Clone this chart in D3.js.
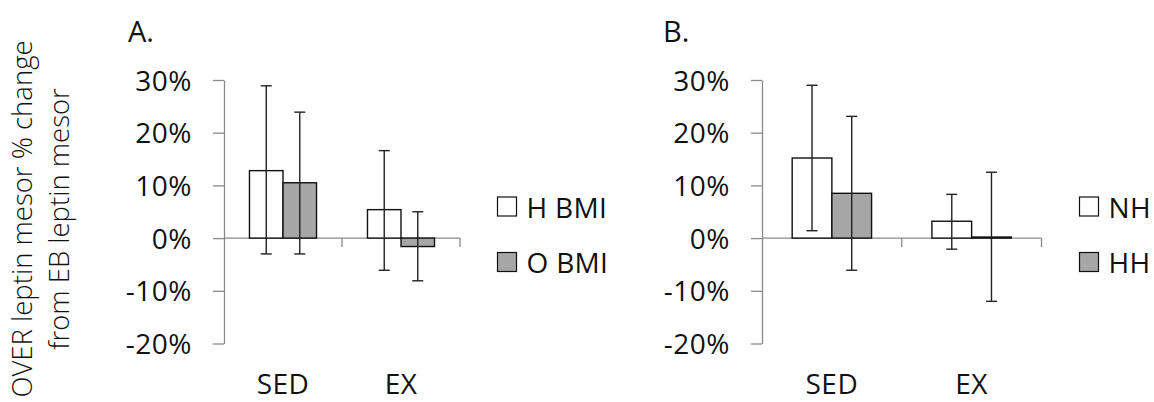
<!DOCTYPE html>
<html>
<head>
<meta charset="utf-8">
<script src="https://cdn.jsdelivr.net/npm/d3@7"></script>
<style>
  html, body { margin: 0; padding: 0; background: #fff; }
  svg text { font-family: "Open Sans", Lato, sans-serif; fill: #111; }
</style>
</head>
<body>
<svg id="chart" width="1154" height="402"></svg>
<script>
// Shared categories and axis ticks
const categories = ["SED", "EX"];
const yTicks = [30, 20, 10, 0, -10, -20];

// Panel A: BMI groups (percent change, with error bar limits)
const seriesA = ["H BMI", "O BMI"];
const meanA_H = [12.8, 5.4];
const meanA_O = [10.5, -1.6];
const hiA_H = [28.9, 16.6];
const loA_H = [-3.0, -6.1];
const hiA_O = [23.9, 5.0];
const loA_O = [-3.0, -8.1];

// Panel B: NH / HH groups
const seriesB = ["NH", "HH"];
const meanB_N = [15.2, 3.2];
const meanB_H = [8.5, 0.2];
const hiB_N = [29.0, 8.3];
const loB_N = [1.4, -2.1];
const hiB_H = [23.1, 12.5];
const loB_H = [-6.1, -12.0];

const fills = ["#ffffff", "#a6a6a6"];
const axisGray = "#8a8a8a";
const fontSize = 28;
const fontWeight = 500;

const svg = d3.select("#chart");

// y-axis title (two lines, rotated)
const yTitle = svg.append("text")
  .attr("transform", "translate(0,219) rotate(-90)")
  .attr("text-anchor", "middle")
  .style("font-size", "27.5px")
  .style("font-weight", 300);
yTitle.append("tspan").attr("x", 0).attr("y", 32).text("OVER leptin mesor % change");
yTitle.append("tspan").attr("x", 0).attr("y", 69).text("from EB leptin mesor");

const y = d3.scaleLinear().domain([-20, 30]).range([343.5, 80]);

function drawPanel(opt) {
  const g = svg.append("g");
  const x = d3.scaleBand().domain(categories).range([opt.x0, opt.x1]).paddingInner(0).paddingOuter(0);
  const xs = d3.scaleBand().domain(opt.series).range([0, x.bandwidth()]).paddingInner(0).paddingOuter(0.76);

  // panel letter
  g.append("text").attr("x", opt.titleX).attr("y", 42)
    .style("font-size", "29px").style("font-weight", fontWeight).text(opt.title);

  // y axis
  const ya = g.append("g").attr("transform", `translate(${opt.x0},0)`)
    .call(d3.axisLeft(y).tickValues(yTicks).tickSize(11).tickSizeOuter(0).tickPadding(21)
      .tickFormat(d => d + "%"));
  ya.select(".domain").attr("stroke", axisGray).attr("stroke-width", 1.3);
  ya.selectAll(".tick line").attr("stroke", axisGray).attr("stroke-width", 1.3);
  ya.selectAll(".tick text")
    .attr("font-family", null).attr("font-size", null)
    .style("font-size", fontSize + "px").style("font-weight", fontWeight)
    .style("letter-spacing", "0.5px")
    .attr("fill", "#111").attr("dy", "0.36em");

  // x axis at zero
  g.append("line").attr("x1", opt.x0).attr("x2", opt.x1)
    .attr("y1", y(0)).attr("y2", y(0))
    .attr("stroke", axisGray).attr("stroke-width", 1.3);
  g.selectAll(".xtick").data(categories).join("line")
    .attr("x1", d => x(d) + x.bandwidth()).attr("x2", d => x(d) + x.bandwidth())
    .attr("y1", y(0)).attr("y2", y(0) + 9)
    .attr("stroke", axisGray).attr("stroke-width", 1.3);

  // category labels
  g.selectAll(".xlab").data(categories).join("text")
    .attr("x", d => x(d) + x.bandwidth() / 2).attr("y", 394)
    .attr("text-anchor", "middle")
    .style("font-size", fontSize + "px").style("font-weight", fontWeight)
    .style("letter-spacing", "0.5px")
    .text(d => d);

  // bars and error bars
  opt.series.forEach((s, si) => {
    const rows = categories.map((c, ci) => ({
      c, v: opt.means[si][ci], hi: opt.his[si][ci], lo: opt.los[si][ci]
    }));
    g.selectAll(".bar" + si).data(rows).join("rect")
      .attr("x", d => x(d.c) + xs(s))
      .attr("width", xs.bandwidth())
      .attr("y", d => y(Math.max(0, d.v)))
      .attr("height", d => Math.abs(y(d.v) - y(0)))
      .attr("fill", fills[si]).attr("stroke", "#111").attr("stroke-width", 1.4);

    const eg = g.selectAll(".err" + si).data(rows).join("g")
      .attr("transform", d => `translate(${x(d.c) + xs(s) + xs.bandwidth() / 2},0)`);
    eg.append("line").attr("y1", d => y(d.hi)).attr("y2", d => y(d.lo))
      .attr("stroke", "#222").attr("stroke-width", 1.4);
    eg.append("line").attr("x1", -5.5).attr("x2", 5.5)
      .attr("y1", d => y(d.hi)).attr("y2", d => y(d.hi))
      .attr("stroke", "#222").attr("stroke-width", 1.4);
    eg.append("line").attr("x1", -5.5).attr("x2", 5.5)
      .attr("y1", d => y(d.lo)).attr("y2", d => y(d.lo))
      .attr("stroke", "#222").attr("stroke-width", 1.4);
  });

  // legend
  const lg = g.selectAll(".leg").data(opt.series).join("g")
    .attr("transform", (d, i) => `translate(${opt.legX},${197 + i * 55.5})`);
  lg.append("rect").attr("width", 19).attr("height", 19)
    .attr("fill", (d, i) => fills[i]).attr("stroke", "#111").attr("stroke-width", 1.2);
  lg.append("text").attr("x", 29).attr("y", 20.5)
    .style("font-size", fontSize + "px").style("font-weight", fontWeight)
    .style("letter-spacing", "0.3px")
    .text(d => d);
}

drawPanel({
  title: "A.", titleX: 128, x0: 224, x1: 460, series: seriesA,
  means: [meanA_H, meanA_O], his: [hiA_H, hiA_O], los: [loA_H, loA_O], legX: 497.5
});
drawPanel({
  title: "B.", titleX: 663, x0: 762, x1: 1041.5, series: seriesB,
  means: [meanB_N, meanB_H], his: [hiB_N, hiB_H], los: [loB_N, loB_H], legX: 1079.5
});
</script>
</body>
</html>
